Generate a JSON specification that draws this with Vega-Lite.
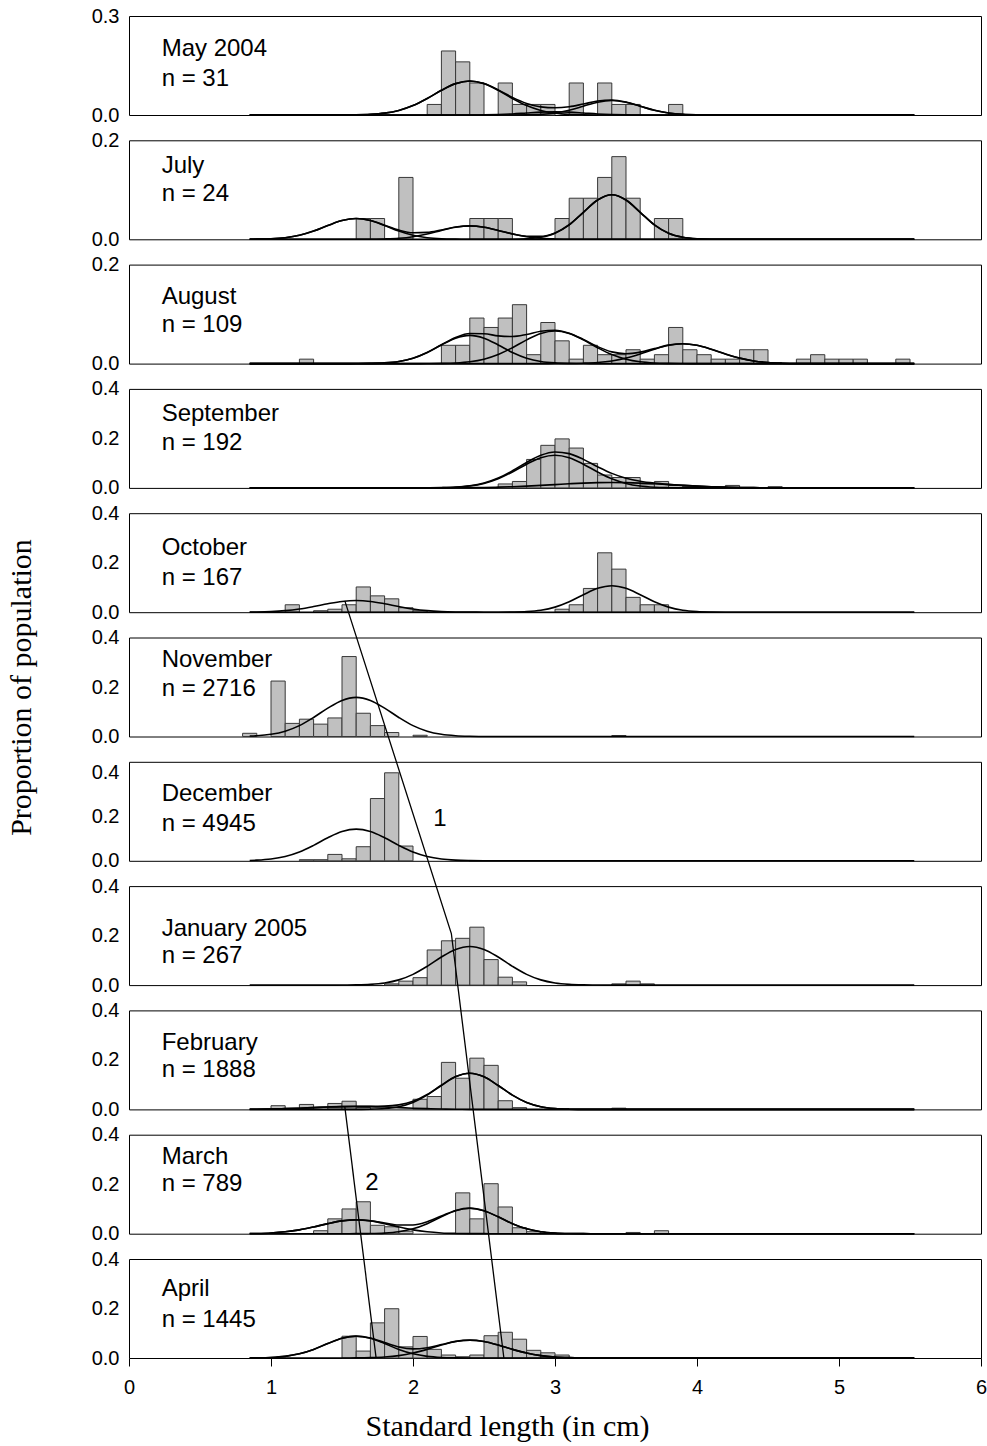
{
  "$schema": "https://vega.github.io/schema/vega-lite/v6.json",
  "background": "white",
  "padding": {"left": 5, "top": 5, "right": 0, "bottom": 5},
  "bounds": "flush",
  "spacing": 25.3,
  "config": {
    "view": {"stroke": "black", "strokeWidth": 1},
    "axis": {
      "labelFont": "Liberation Sans", "labelFontSize": 20, "labelColor": "black",
      "titleFont": "Liberation Serif", "titleFontSize": 30, "titleFontWeight": "normal", "titleColor": "black",
      "grid": false, "domain": false
    },
    "axisY": {"ticks": false, "labelPadding": 10, "format": ".1f"}
  },
  "datasets": {
    "bins": [
      {"m": "May", "x": [2.1,2.2,2.3,2.4,2.6,2.7,2.8,2.9,3.1,3.3,3.4,3.5,3.8], "hi": [2.2,2.3,2.4,2.5,2.7,2.8,2.9,3.0,3.2,3.4,3.5,3.6,3.9], "p": [0.032,0.194,0.161,0.097,0.097,0.032,0.032,0.032,0.097,0.097,0.032,0.032,0.032]},
      {"m": "Jul", "x": [1.6,1.7,1.9,2.4,2.5,2.6,3.0,3.1,3.2,3.3,3.4,3.5,3.7,3.8], "hi": [1.7,1.8,2.0,2.5,2.6,2.7,3.1,3.2,3.3,3.4,3.5,3.6,3.8,3.9], "p": [0.042,0.042,0.125,0.042,0.042,0.042,0.042,0.083,0.083,0.125,0.167,0.083,0.042,0.042]},
      {"m": "Aug", "x": [1.2,2.2,2.3,2.4,2.5,2.6,2.7,2.8,2.9,3.0,3.1,3.2,3.3,3.4,3.5,3.6,3.7,3.8,3.9,4.0,4.1,4.2,4.3,4.4,4.7,4.8,4.9,5.0,5.1,5.4], "hi": [1.3,2.3,2.4,2.5,2.6,2.7,2.8,2.9,3.0,3.1,3.2,3.3,3.4,3.5,3.6,3.7,3.8,3.9,4.0,4.1,4.2,4.3,4.4,4.5,4.8,4.9,5.0,5.1,5.2,5.5], "p": [0.009,0.037,0.037,0.092,0.073,0.092,0.119,0.018,0.083,0.046,0.009,0.037,0.018,0.018,0.028,0.009,0.018,0.073,0.028,0.018,0.009,0.009,0.028,0.028,0.009,0.018,0.009,0.009,0.009,0.009]},
      {"m": "Sep", "x": [2.6,2.7,2.8,2.9,3.0,3.1,3.2,3.3,3.4,3.5,3.6,3.7,3.8,3.9,4.2,4.5], "hi": [2.7,2.8,2.9,3.0,3.1,3.2,3.3,3.4,3.5,3.6,3.7,3.8,3.9,4.0,4.3,4.6], "p": [0.016,0.026,0.115,0.172,0.198,0.161,0.099,0.052,0.042,0.042,0.016,0.026,0.010,0.005,0.010,0.005]},
      {"m": "Oct", "x": [1.1,1.3,1.4,1.5,1.6,1.7,1.8,1.9,2.0,3.0,3.1,3.2,3.3,3.4,3.5,3.6,3.7], "hi": [1.2,1.4,1.5,1.6,1.7,1.8,1.9,2.0,2.1,3.1,3.2,3.3,3.4,3.5,3.6,3.7,3.8], "p": [0.030,0.006,0.012,0.030,0.102,0.066,0.054,0.018,0.006,0.012,0.030,0.096,0.240,0.174,0.060,0.030,0.030]},
      {"m": "Nov", "x": [0.8,1.0,1.1,1.2,1.3,1.4,1.5,1.6,1.7,1.8,2.0,3.4], "hi": [0.9,1.1,1.2,1.3,1.4,1.5,1.6,1.7,1.8,1.9,2.1,3.5], "p": [0.013,0.224,0.053,0.070,0.050,0.075,0.323,0.094,0.044,0.016,0.005,0.004]},
      {"m": "Dec", "x": [1.2,1.3,1.4,1.5,1.6,1.7,1.8,1.9], "hi": [1.3,1.4,1.5,1.6,1.7,1.8,1.9,2.0], "p": [0.005,0.005,0.029,0.009,0.064,0.283,0.400,0.067]},
      {"m": "Jan", "x": [1.8,1.9,2.0,2.1,2.2,2.3,2.4,2.5,2.6,2.7,3.4,3.5,3.6], "hi": [1.9,2.0,2.1,2.2,2.3,2.4,2.5,2.6,2.7,2.8,3.5,3.6,3.7], "p": [0.005,0.016,0.030,0.142,0.179,0.189,0.234,0.103,0.032,0.013,0.005,0.016,0.005]},
      {"m": "Feb", "x": [1.0,1.2,1.4,1.5,1.6,2.0,2.1,2.2,2.3,2.4,2.5,2.6,2.7,3.4], "hi": [1.1,1.3,1.5,1.6,1.7,2.1,2.2,2.3,2.4,2.5,2.6,2.7,2.8,3.5], "p": [0.015,0.020,0.024,0.033,0.008,0.041,0.052,0.190,0.126,0.207,0.178,0.035,0.007,0.005]},
      {"m": "Mar", "x": [1.3,1.4,1.5,1.6,1.7,1.8,1.9,2.3,2.4,2.5,2.6,2.7,2.8,3.5,3.7], "hi": [1.4,1.5,1.6,1.7,1.8,1.9,2.0,2.4,2.5,2.6,2.7,2.8,2.9,3.6,3.8], "p": [0.012,0.060,0.100,0.129,0.034,0.028,0.010,0.165,0.060,0.202,0.108,0.024,0.008,0.005,0.012]},
      {"m": "Apr", "x": [1.5,1.6,1.7,1.8,1.9,2.0,2.1,2.2,2.3,2.4,2.5,2.6,2.7,2.8,2.9,3.0], "hi": [1.6,1.7,1.8,1.9,2.0,2.1,2.2,2.3,2.4,2.5,2.6,2.7,2.8,2.9,3.0,3.1], "p": [0.088,0.028,0.142,0.199,0.045,0.087,0.035,0.012,0.005,0.012,0.090,0.104,0.076,0.031,0.021,0.012]}
    ],
    "fits": [
      {"m": "May", "c": "a", "x": [0.85,1.4,1.5,1.6,1.7,1.8,1.9,2.0,2.1,2.2,2.3,2.4,2.5,2.6,2.7,2.8,2.9,3.0,3.1,3.2,3.3,3.4,5.53], "p": [0,0,0.0002,0.0006,0.002,0.0058,0.0139,0.0286,0.0501,0.0748,0.0951,0.103,0.0951,0.0748,0.0501,0.0286,0.0139,0.0058,0.002,0.0006,0.0002,0,0]},
      {"m": "May", "c": "b", "x": [0.85,2.6,2.7,2.8,2.9,3.0,3.1,3.2,3.3,3.4,3.5,3.6,3.7,3.8,3.9,4.0,4.1,4.2,5.53], "p": [0,0,0.0001,0.0005,0.0019,0.006,0.0143,0.0267,0.0388,0.044,0.0388,0.0267,0.0143,0.006,0.0019,0.0005,0.0001,0,0]},
      {"m": "May", "c": "c", "x": [0.85,2.3,2.4,2.5,2.6,2.7,2.8,2.9,3.0,3.1,3.2,3.3,3.4,3.5,3.6,3.7,5.53], "p": [0,0,0.0001,0.0004,0.0014,0.0032,0.0061,0.0088,0.01,0.0088,0.0061,0.0032,0.0014,0.0004,0.0001,0,0]},
      {"m": "May", "c": "sum", "x": [0.85,1.4,1.5,1.6,1.7,1.8,1.9,2.0,2.1,2.2,2.3,2.4,2.5,2.6,2.7,2.8,2.9,3.0,3.1,3.2,3.3,3.4,3.5,3.6,3.7,3.8,3.9,4.0,4.1,4.2,5.53], "p": [0,0,0.0002,0.0006,0.002,0.0058,0.0139,0.0286,0.0501,0.0748,0.0951,0.1031,0.0955,0.0762,0.0534,0.0352,0.0246,0.0218,0.0251,0.0334,0.0422,0.0454,0.0392,0.0268,0.0143,0.006,0.0019,0.0005,0.0001,0,0]},
      {"m": "Jul", "c": "a", "x": [0.85,0.9,1.0,1.1,1.2,1.3,1.4,1.5,1.6,1.7,1.8,1.9,2.0,2.1,2.2,2.3,2.4,2.5,5.53], "p": [0,0.0003,0.001,0.0032,0.008,0.0166,0.0278,0.0379,0.042,0.0379,0.0278,0.0166,0.008,0.0032,0.001,0.0003,0.0001,0,0]},
      {"m": "Jul", "c": "b", "x": [0.85,1.6,1.7,1.8,1.9,2.0,2.1,2.2,2.3,2.4,2.5,2.6,2.7,2.8,2.9,3.0,3.1,3.2,5.53], "p": [0,0,0.0002,0.0007,0.002,0.0052,0.0107,0.0179,0.0244,0.027,0.0244,0.0179,0.0107,0.0052,0.002,0.0007,0.0002,0,0]},
      {"m": "Jul", "c": "c", "x": [0.85,2.6,2.7,2.8,2.9,3.0,3.1,3.2,3.3,3.4,3.5,3.6,3.7,3.8,3.9,4.0,4.1,4.2,5.53], "p": [0,0,0.0002,0.001,0.004,0.0122,0.0292,0.0546,0.0794,0.09,0.0794,0.0546,0.0292,0.0122,0.004,0.001,0.0002,0,0]},
      {"m": "Jul", "c": "sum", "x": [0.85,0.9,1.0,1.1,1.2,1.3,1.4,1.5,1.6,1.7,1.8,1.9,2.0,2.1,2.2,2.3,2.4,2.5,2.6,2.7,2.8,2.9,3.0,3.1,3.2,3.3,3.4,3.5,3.6,3.7,3.8,3.9,4.0,4.1,4.2,5.53], "p": [0,0.0003,0.001,0.0032,0.008,0.0166,0.0278,0.0379,0.042,0.0381,0.0285,0.0186,0.0132,0.0139,0.0189,0.0247,0.0271,0.0244,0.0179,0.0109,0.0062,0.006,0.0129,0.0294,0.0546,0.0794,0.09,0.0794,0.0546,0.0292,0.0122,0.004,0.001,0.0002,0,0]},
      {"m": "Aug", "c": "a", "x": [0.85,1.5,1.6,1.7,1.8,1.9,2.0,2.1,2.2,2.3,2.4,2.5,2.6,2.7,2.8,2.9,3.0,3.1,3.2,3.3,5.53], "p": [0,0,0.0001,0.0004,0.0014,0.0043,0.0109,0.0225,0.0377,0.0514,0.057,0.0514,0.0377,0.0225,0.0109,0.0043,0.0014,0.0004,0.0001,0,0]},
      {"m": "Aug", "c": "b", "x": [0.85,2.0,2.1,2.2,2.3,2.4,2.5,2.6,2.7,2.8,2.9,3.0,3.1,3.2,3.3,3.4,3.5,3.6,3.7,3.8,3.9,4.0,5.53], "p": [0,0,0.0001,0.0004,0.0013,0.0037,0.0089,0.0183,0.0321,0.0479,0.0609,0.066,0.0609,0.0479,0.0321,0.0183,0.0089,0.0037,0.0013,0.0004,0.0001,0,0]},
      {"m": "Aug", "c": "c", "x": [0.85,2.9,3.0,3.1,3.2,3.3,3.4,3.5,3.6,3.7,3.8,3.9,4.0,4.1,4.2,4.3,4.4,4.5,4.6,4.7,4.8,4.9,5.53], "p": [0,0,0.0001,0.0002,0.0008,0.0022,0.0054,0.0111,0.0195,0.029,0.0369,0.04,0.0369,0.029,0.0195,0.0111,0.0054,0.0022,0.0008,0.0002,0.0001,0,0]},
      {"m": "Aug", "c": "sum", "x": [0.85,1.5,1.6,1.7,1.8,1.9,2.0,2.1,2.2,2.3,2.4,2.5,2.6,2.7,2.8,2.9,3.0,3.1,3.2,3.3,3.4,3.5,3.6,3.7,3.8,3.9,4.0,4.1,4.2,4.3,4.4,4.5,4.6,4.7,4.8,4.9,5.53], "p": [0,0,0.0001,0.0004,0.0014,0.0043,0.0109,0.0226,0.0381,0.0527,0.0607,0.0603,0.056,0.0546,0.0588,0.0652,0.0675,0.0615,0.0488,0.0343,0.0237,0.02,0.0232,0.0303,0.0373,0.0401,0.0369,0.029,0.0195,0.0111,0.0054,0.0022,0.0008,0.0002,0.0001,0,0]},
      {"m": "Sep", "c": "a", "x": [0.85,2.0,2.1,2.2,2.3,2.4,2.5,2.6,2.7,2.8,2.9,3.0,3.1,3.2,3.3,3.4,3.5,3.6,3.7,3.8,3.9,4.0,5.53], "p": [0,0,0.0002,0.0008,0.0026,0.0074,0.0179,0.0367,0.0643,0.0958,0.1218,0.132,0.1218,0.0958,0.0643,0.0367,0.0179,0.0074,0.0026,0.0008,0.0002,0,0]},
      {"m": "Sep", "c": "b", "x": [0.85,2.0,2.1,2.2,2.3,2.4,2.5,2.6,2.7,2.8,2.9,3.0,3.1,3.2,3.3,3.4,3.5,3.6,3.7,3.8,3.9,4.0,4.1,4.2,4.3,4.4,4.5,4.6,4.7,4.8,5.53], "p": [0,0,0.0001,0.0002,0.0005,0.001,0.0018,0.003,0.0048,0.0071,0.0101,0.0133,0.0166,0.0194,0.0213,0.022,0.0213,0.0194,0.0166,0.0133,0.0101,0.0071,0.0048,0.003,0.0018,0.001,0.0005,0.0002,0.0001,0,0]},
      {"m": "Sep", "c": "sum", "x": [0.85,2.0,2.1,2.2,2.3,2.4,2.5,2.6,2.7,2.8,2.9,3.0,3.1,3.2,3.3,3.4,3.5,3.6,3.7,3.8,3.9,4.0,4.1,4.2,4.3,4.4,4.5,4.6,4.7,4.8,5.53], "p": [0,0,0.0003,0.001,0.0031,0.0084,0.0197,0.0397,0.0691,0.1029,0.1319,0.1453,0.1384,0.1152,0.0856,0.0587,0.0392,0.0268,0.0192,0.0141,0.0103,0.0071,0.0048,0.003,0.0018,0.001,0.0005,0.0002,0.0001,0,0]},
      {"m": "Oct", "c": "a", "x": [0.85,0.9,1.0,1.1,1.2,1.3,1.4,1.5,1.6,1.7,1.8,1.9,2.0,2.1,2.2,2.3,2.4,2.5,2.6,5.53], "p": [0.0005,0.0009,0.0026,0.0064,0.0131,0.0229,0.0341,0.0434,0.047,0.0434,0.0341,0.0229,0.0131,0.0064,0.0026,0.0009,0.0003,0.0001,0,0]},
      {"m": "Oct", "c": "b", "x": [0.85,2.5,2.6,2.7,2.8,2.9,3.0,3.1,3.2,3.3,3.4,3.5,3.6,3.7,3.8,3.9,4.0,4.1,4.2,4.3,5.53], "p": [0,0,0.0001,0.0007,0.0026,0.0081,0.0205,0.0422,0.0708,0.0965,0.107,0.0965,0.0708,0.0422,0.0205,0.0081,0.0026,0.0007,0.0001,0,0]},
      {"m": "Nov", "c": "a", "x": [0.85,0.9,1.0,1.1,1.2,1.3,1.4,1.5,1.6,1.7,1.8,1.9,2.0,2.1,2.2,2.3,2.4,2.5,2.6,5.53], "p": [0.0018,0.0031,0.0089,0.0214,0.0439,0.0769,0.1147,0.1458,0.158,0.1458,0.1147,0.0769,0.0439,0.0214,0.0089,0.0031,0.0009,0.0002,0,0]},
      {"m": "Dec", "c": "a", "x": [0.85,0.9,1.0,1.1,1.2,1.3,1.4,1.5,1.6,1.7,1.8,1.9,2.0,2.1,2.2,2.3,2.4,2.5,2.6,5.53], "p": [0.0016,0.0029,0.0081,0.0195,0.04,0.0701,0.1046,0.1329,0.144,0.1329,0.1046,0.0701,0.04,0.0195,0.0081,0.0029,0.0009,0.0002,0,0]},
      {"m": "Jan", "c": "a", "x": [0.85,1.4,1.5,1.6,1.7,1.8,1.9,2.0,2.1,2.2,2.3,2.4,2.5,2.6,2.7,2.8,2.9,3.0,3.1,3.2,3.3,3.4,5.53], "p": [0,0,0.0002,0.0009,0.0031,0.0088,0.0211,0.0434,0.0759,0.1133,0.144,0.156,0.144,0.1133,0.0759,0.0434,0.0211,0.0088,0.0031,0.0009,0.0002,0,0]},
      {"m": "Feb", "c": "a", "x": [0.85,1.5,1.6,1.7,1.8,1.9,2.0,2.1,2.2,2.3,2.4,2.5,2.6,2.7,2.8,2.9,3.0,3.1,3.2,3.3,5.53], "p": [0,0,0.0002,0.0009,0.0035,0.011,0.028,0.0576,0.0966,0.1317,0.146,0.1317,0.0966,0.0576,0.028,0.011,0.0035,0.0009,0.0002,0,0]},
      {"m": "Feb", "c": "b", "x": [0.85,0.9,1.0,1.1,1.2,1.3,1.4,1.5,1.6,1.7,1.8,1.9,2.0,2.1,2.2,2.3,2.4,2.5,2.6,5.53], "p": [0.0005,0.0008,0.0016,0.003,0.0049,0.0073,0.0096,0.0114,0.012,0.0114,0.0096,0.0073,0.0049,0.003,0.0016,0.0008,0.0003,0.0001,0,0]},
      {"m": "Feb", "c": "sum", "x": [0.85,0.9,1.0,1.1,1.2,1.3,1.4,1.5,1.6,1.7,1.8,1.9,2.0,2.1,2.2,2.3,2.4,2.5,2.6,2.7,2.8,2.9,3.0,3.1,3.2,3.3,5.53], "p": [0.0005,0.0008,0.0016,0.003,0.0049,0.0073,0.0096,0.0114,0.0122,0.0123,0.0131,0.0183,0.0329,0.0606,0.0982,0.1325,0.1463,0.1318,0.0966,0.0576,0.028,0.011,0.0035,0.0009,0.0002,0,0]},
      {"m": "Mar", "c": "a", "x": [0.85,0.9,1.0,1.1,1.2,1.3,1.4,1.5,1.6,1.7,1.8,1.9,2.0,2.1,2.2,2.3,2.4,2.5,2.6,5.53], "p": [0.0006,0.0011,0.0031,0.0076,0.0156,0.0273,0.0407,0.0517,0.056,0.0517,0.0407,0.0273,0.0156,0.0076,0.0031,0.0011,0.0003,0.0001,0,0]},
      {"m": "Mar", "c": "b", "x": [0.85,1.5,1.6,1.7,1.8,1.9,2.0,2.1,2.2,2.3,2.4,2.5,2.6,2.7,2.8,2.9,3.0,3.1,3.2,3.3,5.53], "p": [0,0,0.0001,0.0006,0.0025,0.0078,0.0197,0.0406,0.0681,0.0929,0.103,0.0929,0.0681,0.0406,0.0197,0.0078,0.0025,0.0006,0.0001,0,0]},
      {"m": "Mar", "c": "sum", "x": [0.85,0.9,1.0,1.1,1.2,1.3,1.4,1.5,1.6,1.7,1.8,1.9,2.0,2.1,2.2,2.3,2.4,2.5,2.6,2.7,2.8,2.9,3.0,3.1,3.2,3.3,5.53], "p": [0.0006,0.0011,0.0031,0.0076,0.0156,0.0273,0.0407,0.0517,0.0561,0.0523,0.0432,0.0351,0.0353,0.0482,0.0712,0.094,0.1033,0.093,0.0681,0.0406,0.0197,0.0078,0.0025,0.0006,0.0001,0,0]},
      {"m": "Apr", "c": "a", "x": [0.85,0.9,1.0,1.1,1.2,1.3,1.4,1.5,1.6,1.7,1.8,1.9,2.0,2.1,2.2,2.3,2.4,2.5,5.53], "p": [0.0003,0.0006,0.0021,0.0067,0.0169,0.0347,0.0582,0.0794,0.088,0.0794,0.0582,0.0347,0.0169,0.0067,0.0021,0.0006,0.0001,0,0]},
      {"m": "Apr", "c": "b", "x": [0.85,1.4,1.5,1.6,1.7,1.8,1.9,2.0,2.1,2.2,2.3,2.4,2.5,2.6,2.7,2.8,2.9,3.0,3.1,3.2,3.3,3.4,5.53], "p": [0,0,0.0001,0.0004,0.0014,0.004,0.0097,0.02,0.035,0.0523,0.0665,0.072,0.0665,0.0523,0.035,0.02,0.0097,0.004,0.0014,0.0004,0.0001,0,0]},
      {"m": "Apr", "c": "sum", "x": [0.85,0.9,1.0,1.1,1.2,1.3,1.4,1.5,1.6,1.7,1.8,1.9,2.0,2.1,2.2,2.3,2.4,2.5,2.6,2.7,2.8,2.9,3.0,3.1,3.2,3.3,3.4,5.53], "p": [0.0003,0.0006,0.0021,0.0067,0.0169,0.0347,0.0582,0.0795,0.0884,0.0808,0.0622,0.0444,0.0369,0.0417,0.0544,0.0671,0.0721,0.0665,0.0523,0.035,0.02,0.0097,0.004,0.0014,0.0004,0.0001,0,0]}
    ],
    "captions": [
      {"m": "May", "name": "May 2004", "n": "n = 31"},
      {"m": "Jul", "name": "July", "n": "n = 24"},
      {"m": "Aug", "name": "August", "n": "n = 109"},
      {"m": "Sep", "name": "September", "n": "n = 192"},
      {"m": "Oct", "name": "October", "n": "n = 167"},
      {"m": "Nov", "name": "November", "n": "n = 2716"},
      {"m": "Dec", "name": "December", "n": "n = 4945"},
      {"m": "Jan", "name": "January 2005", "n": "n = 267"},
      {"m": "Feb", "name": "February", "n": "n = 1888"},
      {"m": "Mar", "name": "March", "n": "n = 789"},
      {"m": "Apr", "name": "April", "n": "n = 1445"}
    ],
    "cohorts": [
      {"m": "Dec", "t": "1"},
      {"m": "Mar", "t": "2"}
    ],
    "links": [
      {"link": "1", "x": 1.52, "p": 3.059},
      {"link": "1", "x": 2.27, "p": 1.715},
      {"link": "1", "x": 2.64, "p": 0},
      {"link": "2", "x": 1.52, "p": 1.0145},
      {"link": "2", "x": 1.74, "p": 0}
    ]
  },
  "vconcat": [
    {
      "width": 852, "height": 99,
      "layer": [
        {"data": {"name": "bins"}, "transform": [{"filter": {"field": "m", "equal": "May"}}, {"flatten": ["x", "hi", "p"]}],
         "mark": {"type": "rect", "fill": "#c0c0c0", "stroke": "#383838", "strokeWidth": 1},
         "encoding": {
           "x": {"field": "x", "type": "quantitative", "scale": {"domain": [0, 6], "nice": false}, "axis": null},
           "x2": {"field": "hi"},
           "y": {"field": "p", "type": "quantitative", "scale": {"domain": [0, 0.3], "nice": false}, "axis": {"values": [0, 0.3]}, "title": null},
           "y2": {"datum": 0}}},
        {"data": {"name": "fits"}, "transform": [{"filter": {"field": "m", "equal": "May"}}, {"flatten": ["x", "p"]}],
         "mark": {"type": "line", "interpolate": "monotone", "stroke": "black", "strokeWidth": 1.6},
         "encoding": {"x": {"field": "x", "type": "quantitative", "axis": null}, "y": {"field": "p", "type": "quantitative", "title": null}, "detail": {"field": "c", "type": "nominal"}}},
        {"data": {"name": "captions"}, "transform": [{"filter": {"field": "m", "equal": "May"}}],
         "mark": {"type": "text", "align": "left", "baseline": "alphabetic", "font": "Liberation Sans", "fontSize": 24, "fill": "black"},
         "encoding": {"x": {"datum": 0.23, "type": "quantitative", "axis": null}, "y": {"datum": 0.179, "type": "quantitative", "title": null}, "text": {"field": "name", "type": "nominal"}}},
        {"data": {"name": "captions"}, "transform": [{"filter": {"field": "m", "equal": "May"}}],
         "mark": {"type": "text", "align": "left", "baseline": "alphabetic", "font": "Liberation Sans", "fontSize": 24, "fill": "black"},
         "encoding": {"x": {"datum": 0.23, "type": "quantitative", "axis": null}, "y": {"datum": 0.088, "type": "quantitative", "title": null}, "text": {"field": "n", "type": "nominal"}}}
      ]
    },
    {
      "width": 852, "height": 99,
      "layer": [
        {"data": {"name": "bins"}, "transform": [{"filter": {"field": "m", "equal": "Jul"}}, {"flatten": ["x", "hi", "p"]}],
         "mark": {"type": "rect", "fill": "#c0c0c0", "stroke": "#383838", "strokeWidth": 1},
         "encoding": {
           "x": {"field": "x", "type": "quantitative", "scale": {"domain": [0, 6], "nice": false}, "axis": null},
           "x2": {"field": "hi"},
           "y": {"field": "p", "type": "quantitative", "scale": {"domain": [0, 0.2], "nice": false}, "axis": {"values": [0, 0.2]}, "title": null},
           "y2": {"datum": 0}}},
        {"data": {"name": "fits"}, "transform": [{"filter": {"field": "m", "equal": "Jul"}}, {"flatten": ["x", "p"]}],
         "mark": {"type": "line", "interpolate": "monotone", "stroke": "black", "strokeWidth": 1.6},
         "encoding": {"x": {"field": "x", "type": "quantitative", "axis": null}, "y": {"field": "p", "type": "quantitative", "title": null}, "detail": {"field": "c", "type": "nominal"}}},
        {"data": {"name": "captions"}, "transform": [{"filter": {"field": "m", "equal": "Jul"}}],
         "mark": {"type": "text", "align": "left", "baseline": "alphabetic", "font": "Liberation Sans", "fontSize": 24, "fill": "black"},
         "encoding": {"x": {"datum": 0.23, "type": "quantitative", "axis": null}, "y": {"datum": 0.133, "type": "quantitative", "title": null}, "text": {"field": "name", "type": "nominal"}}},
        {"data": {"name": "captions"}, "transform": [{"filter": {"field": "m", "equal": "Jul"}}],
         "mark": {"type": "text", "align": "left", "baseline": "alphabetic", "font": "Liberation Sans", "fontSize": 24, "fill": "black"},
         "encoding": {"x": {"datum": 0.23, "type": "quantitative", "axis": null}, "y": {"datum": 0.077, "type": "quantitative", "title": null}, "text": {"field": "n", "type": "nominal"}}}
      ]
    },
    {
      "width": 852, "height": 99,
      "layer": [
        {"data": {"name": "bins"}, "transform": [{"filter": {"field": "m", "equal": "Aug"}}, {"flatten": ["x", "hi", "p"]}],
         "mark": {"type": "rect", "fill": "#c0c0c0", "stroke": "#383838", "strokeWidth": 1},
         "encoding": {
           "x": {"field": "x", "type": "quantitative", "scale": {"domain": [0, 6], "nice": false}, "axis": null},
           "x2": {"field": "hi"},
           "y": {"field": "p", "type": "quantitative", "scale": {"domain": [0, 0.2], "nice": false}, "axis": {"values": [0, 0.2]}, "title": null},
           "y2": {"datum": 0}}},
        {"data": {"name": "fits"}, "transform": [{"filter": {"field": "m", "equal": "Aug"}}, {"flatten": ["x", "p"]}],
         "mark": {"type": "line", "interpolate": "monotone", "stroke": "black", "strokeWidth": 1.6},
         "encoding": {"x": {"field": "x", "type": "quantitative", "axis": null}, "y": {"field": "p", "type": "quantitative", "title": null}, "detail": {"field": "c", "type": "nominal"}}},
        {"data": {"name": "captions"}, "transform": [{"filter": {"field": "m", "equal": "Aug"}}],
         "mark": {"type": "text", "align": "left", "baseline": "alphabetic", "font": "Liberation Sans", "fontSize": 24, "fill": "black"},
         "encoding": {"x": {"datum": 0.23, "type": "quantitative", "axis": null}, "y": {"datum": 0.121, "type": "quantitative", "title": null}, "text": {"field": "name", "type": "nominal"}}},
        {"data": {"name": "captions"}, "transform": [{"filter": {"field": "m", "equal": "Aug"}}],
         "mark": {"type": "text", "align": "left", "baseline": "alphabetic", "font": "Liberation Sans", "fontSize": 24, "fill": "black"},
         "encoding": {"x": {"datum": 0.23, "type": "quantitative", "axis": null}, "y": {"datum": 0.063, "type": "quantitative", "title": null}, "text": {"field": "n", "type": "nominal"}}}
      ]
    },
    {
      "width": 852, "height": 99,
      "layer": [
        {"data": {"name": "bins"}, "transform": [{"filter": {"field": "m", "equal": "Sep"}}, {"flatten": ["x", "hi", "p"]}],
         "mark": {"type": "rect", "fill": "#c0c0c0", "stroke": "#383838", "strokeWidth": 1},
         "encoding": {
           "x": {"field": "x", "type": "quantitative", "scale": {"domain": [0, 6], "nice": false}, "axis": null},
           "x2": {"field": "hi"},
           "y": {"field": "p", "type": "quantitative", "scale": {"domain": [0, 0.4], "nice": false}, "axis": {"values": [0, 0.2, 0.4]}, "title": null},
           "y2": {"datum": 0}}},
        {"data": {"name": "fits"}, "transform": [{"filter": {"field": "m", "equal": "Sep"}}, {"flatten": ["x", "p"]}],
         "mark": {"type": "line", "interpolate": "monotone", "stroke": "black", "strokeWidth": 1.6},
         "encoding": {"x": {"field": "x", "type": "quantitative", "axis": null}, "y": {"field": "p", "type": "quantitative", "title": null}, "detail": {"field": "c", "type": "nominal"}}},
        {"data": {"name": "captions"}, "transform": [{"filter": {"field": "m", "equal": "Sep"}}],
         "mark": {"type": "text", "align": "left", "baseline": "alphabetic", "font": "Liberation Sans", "fontSize": 24, "fill": "black"},
         "encoding": {"x": {"datum": 0.23, "type": "quantitative", "axis": null}, "y": {"datum": 0.271, "type": "quantitative", "title": null}, "text": {"field": "name", "type": "nominal"}}},
        {"data": {"name": "captions"}, "transform": [{"filter": {"field": "m", "equal": "Sep"}}],
         "mark": {"type": "text", "align": "left", "baseline": "alphabetic", "font": "Liberation Sans", "fontSize": 24, "fill": "black"},
         "encoding": {"x": {"datum": 0.23, "type": "quantitative", "axis": null}, "y": {"datum": 0.154, "type": "quantitative", "title": null}, "text": {"field": "n", "type": "nominal"}}}
      ]
    },
    {
      "width": 852, "height": 99,
      "layer": [
        {"data": {"name": "bins"}, "transform": [{"filter": {"field": "m", "equal": "Oct"}}, {"flatten": ["x", "hi", "p"]}],
         "mark": {"type": "rect", "fill": "#c0c0c0", "stroke": "#383838", "strokeWidth": 1},
         "encoding": {
           "x": {"field": "x", "type": "quantitative", "scale": {"domain": [0, 6], "nice": false}, "axis": null},
           "x2": {"field": "hi"},
           "y": {"field": "p", "type": "quantitative", "scale": {"domain": [0, 0.4], "nice": false}, "axis": {"values": [0, 0.2, 0.4]}, "title": null},
           "y2": {"datum": 0}}},
        {"data": {"name": "fits"}, "transform": [{"filter": {"field": "m", "equal": "Oct"}}, {"flatten": ["x", "p"]}],
         "mark": {"type": "line", "interpolate": "monotone", "stroke": "black", "strokeWidth": 1.6},
         "encoding": {"x": {"field": "x", "type": "quantitative", "axis": null}, "y": {"field": "p", "type": "quantitative", "title": null}, "detail": {"field": "c", "type": "nominal"}}},
        {"data": {"name": "captions"}, "transform": [{"filter": {"field": "m", "equal": "Oct"}}],
         "mark": {"type": "text", "align": "left", "baseline": "alphabetic", "font": "Liberation Sans", "fontSize": 24, "fill": "black"},
         "encoding": {"x": {"datum": 0.23, "type": "quantitative", "axis": null}, "y": {"datum": 0.23, "type": "quantitative", "title": null}, "text": {"field": "name", "type": "nominal"}}},
        {"data": {"name": "captions"}, "transform": [{"filter": {"field": "m", "equal": "Oct"}}],
         "mark": {"type": "text", "align": "left", "baseline": "alphabetic", "font": "Liberation Sans", "fontSize": 24, "fill": "black"},
         "encoding": {"x": {"datum": 0.23, "type": "quantitative", "axis": null}, "y": {"datum": 0.109, "type": "quantitative", "title": null}, "text": {"field": "n", "type": "nominal"}}}
      ]
    },
    {
      "width": 852, "height": 99,
      "layer": [
        {"data": {"name": "bins"}, "transform": [{"filter": {"field": "m", "equal": "Nov"}}, {"flatten": ["x", "hi", "p"]}],
         "mark": {"type": "rect", "fill": "#c0c0c0", "stroke": "#383838", "strokeWidth": 1},
         "encoding": {
           "x": {"field": "x", "type": "quantitative", "scale": {"domain": [0, 6], "nice": false}, "axis": null},
           "x2": {"field": "hi"},
           "y": {"field": "p", "type": "quantitative", "scale": {"domain": [0, 0.4], "nice": false}, "axis": {"values": [0, 0.2, 0.4], "titlePadding": 55}, "title": "Proportion of population"},
           "y2": {"datum": 0}}},
        {"data": {"name": "fits"}, "transform": [{"filter": {"field": "m", "equal": "Nov"}}, {"flatten": ["x", "p"]}],
         "mark": {"type": "line", "interpolate": "monotone", "stroke": "black", "strokeWidth": 1.6},
         "encoding": {"x": {"field": "x", "type": "quantitative", "axis": null}, "y": {"field": "p", "type": "quantitative", "title": "Proportion of population"}, "detail": {"field": "c", "type": "nominal"}}},
        {"data": {"name": "captions"}, "transform": [{"filter": {"field": "m", "equal": "Nov"}}],
         "mark": {"type": "text", "align": "left", "baseline": "alphabetic", "font": "Liberation Sans", "fontSize": 24, "fill": "black"},
         "encoding": {"x": {"datum": 0.23, "type": "quantitative", "axis": null}, "y": {"datum": 0.279, "type": "quantitative", "title": "Proportion of population"}, "text": {"field": "name", "type": "nominal"}}},
        {"data": {"name": "captions"}, "transform": [{"filter": {"field": "m", "equal": "Nov"}}],
         "mark": {"type": "text", "align": "left", "baseline": "alphabetic", "font": "Liberation Sans", "fontSize": 24, "fill": "black"},
         "encoding": {"x": {"datum": 0.23, "type": "quantitative", "axis": null}, "y": {"datum": 0.162, "type": "quantitative", "title": "Proportion of population"}, "text": {"field": "n", "type": "nominal"}}}
      ]
    },
    {
      "width": 852, "height": 99,
      "layer": [
        {"data": {"name": "bins"}, "transform": [{"filter": {"field": "m", "equal": "Dec"}}, {"flatten": ["x", "hi", "p"]}],
         "mark": {"type": "rect", "fill": "#c0c0c0", "stroke": "#383838", "strokeWidth": 1},
         "encoding": {
           "x": {"field": "x", "type": "quantitative", "scale": {"domain": [0, 6], "nice": false}, "axis": null},
           "x2": {"field": "hi"},
           "y": {"field": "p", "type": "quantitative", "scale": {"domain": [0, 0.45], "nice": false}, "axis": {"values": [0, 0.2, 0.4]}, "title": null},
           "y2": {"datum": 0}}},
        {"data": {"name": "fits"}, "transform": [{"filter": {"field": "m", "equal": "Dec"}}, {"flatten": ["x", "p"]}],
         "mark": {"type": "line", "interpolate": "monotone", "stroke": "black", "strokeWidth": 1.6},
         "encoding": {"x": {"field": "x", "type": "quantitative", "axis": null}, "y": {"field": "p", "type": "quantitative", "title": null}, "detail": {"field": "c", "type": "nominal"}}},
        {"data": {"name": "captions"}, "transform": [{"filter": {"field": "m", "equal": "Dec"}}],
         "mark": {"type": "text", "align": "left", "baseline": "alphabetic", "font": "Liberation Sans", "fontSize": 24, "fill": "black"},
         "encoding": {"x": {"datum": 0.23, "type": "quantitative", "axis": null}, "y": {"datum": 0.273, "type": "quantitative", "title": null}, "text": {"field": "name", "type": "nominal"}}},
        {"data": {"name": "captions"}, "transform": [{"filter": {"field": "m", "equal": "Dec"}}],
         "mark": {"type": "text", "align": "left", "baseline": "alphabetic", "font": "Liberation Sans", "fontSize": 24, "fill": "black"},
         "encoding": {"x": {"datum": 0.23, "type": "quantitative", "axis": null}, "y": {"datum": 0.136, "type": "quantitative", "title": null}, "text": {"field": "n", "type": "nominal"}}},
        {"data": {"name": "cohorts"}, "transform": [{"filter": {"field": "m", "equal": "Dec"}}],
         "mark": {"type": "text", "align": "center", "baseline": "middle", "font": "Liberation Sans", "fontSize": 24, "fill": "black"},
         "encoding": {"x": {"datum": 2.19, "type": "quantitative", "axis": null}, "y": {"datum": 0.188, "type": "quantitative", "title": null}, "text": {"field": "t", "type": "nominal"}}}
      ]
    },
    {
      "width": 852, "height": 99,
      "layer": [
        {"data": {"name": "bins"}, "transform": [{"filter": {"field": "m", "equal": "Jan"}}, {"flatten": ["x", "hi", "p"]}],
         "mark": {"type": "rect", "fill": "#c0c0c0", "stroke": "#383838", "strokeWidth": 1},
         "encoding": {
           "x": {"field": "x", "type": "quantitative", "scale": {"domain": [0, 6], "nice": false}, "axis": null},
           "x2": {"field": "hi"},
           "y": {"field": "p", "type": "quantitative", "scale": {"domain": [0, 0.4], "nice": false}, "axis": {"values": [0, 0.2, 0.4]}, "title": null},
           "y2": {"datum": 0}}},
        {"data": {"name": "fits"}, "transform": [{"filter": {"field": "m", "equal": "Jan"}}, {"flatten": ["x", "p"]}],
         "mark": {"type": "line", "interpolate": "monotone", "stroke": "black", "strokeWidth": 1.6},
         "encoding": {"x": {"field": "x", "type": "quantitative", "axis": null}, "y": {"field": "p", "type": "quantitative", "title": null}, "detail": {"field": "c", "type": "nominal"}}},
        {"data": {"name": "captions"}, "transform": [{"filter": {"field": "m", "equal": "Jan"}}],
         "mark": {"type": "text", "align": "left", "baseline": "alphabetic", "font": "Liberation Sans", "fontSize": 24, "fill": "black"},
         "encoding": {"x": {"datum": 0.23, "type": "quantitative", "axis": null}, "y": {"datum": 0.198, "type": "quantitative", "title": null}, "text": {"field": "name", "type": "nominal"}}},
        {"data": {"name": "captions"}, "transform": [{"filter": {"field": "m", "equal": "Jan"}}],
         "mark": {"type": "text", "align": "left", "baseline": "alphabetic", "font": "Liberation Sans", "fontSize": 24, "fill": "black"},
         "encoding": {"x": {"datum": 0.23, "type": "quantitative", "axis": null}, "y": {"datum": 0.089, "type": "quantitative", "title": null}, "text": {"field": "n", "type": "nominal"}}}
      ]
    },
    {
      "width": 852, "height": 99,
      "layer": [
        {"data": {"name": "bins"}, "transform": [{"filter": {"field": "m", "equal": "Feb"}}, {"flatten": ["x", "hi", "p"]}],
         "mark": {"type": "rect", "fill": "#c0c0c0", "stroke": "#383838", "strokeWidth": 1},
         "encoding": {
           "x": {"field": "x", "type": "quantitative", "scale": {"domain": [0, 6], "nice": false}, "axis": null},
           "x2": {"field": "hi"},
           "y": {"field": "p", "type": "quantitative", "scale": {"domain": [0, 0.4], "nice": false}, "axis": {"values": [0, 0.2, 0.4]}, "title": null},
           "y2": {"datum": 0}}},
        {"data": {"name": "fits"}, "transform": [{"filter": {"field": "m", "equal": "Feb"}}, {"flatten": ["x", "p"]}],
         "mark": {"type": "line", "interpolate": "monotone", "stroke": "black", "strokeWidth": 1.6},
         "encoding": {"x": {"field": "x", "type": "quantitative", "axis": null}, "y": {"field": "p", "type": "quantitative", "title": null}, "detail": {"field": "c", "type": "nominal"}}},
        {"data": {"name": "captions"}, "transform": [{"filter": {"field": "m", "equal": "Feb"}}],
         "mark": {"type": "text", "align": "left", "baseline": "alphabetic", "font": "Liberation Sans", "fontSize": 24, "fill": "black"},
         "encoding": {"x": {"datum": 0.23, "type": "quantitative", "axis": null}, "y": {"datum": 0.242, "type": "quantitative", "title": null}, "text": {"field": "name", "type": "nominal"}}},
        {"data": {"name": "captions"}, "transform": [{"filter": {"field": "m", "equal": "Feb"}}],
         "mark": {"type": "text", "align": "left", "baseline": "alphabetic", "font": "Liberation Sans", "fontSize": 24, "fill": "black"},
         "encoding": {"x": {"datum": 0.23, "type": "quantitative", "axis": null}, "y": {"datum": 0.129, "type": "quantitative", "title": null}, "text": {"field": "n", "type": "nominal"}}}
      ]
    },
    {
      "width": 852, "height": 99,
      "layer": [
        {"data": {"name": "bins"}, "transform": [{"filter": {"field": "m", "equal": "Mar"}}, {"flatten": ["x", "hi", "p"]}],
         "mark": {"type": "rect", "fill": "#c0c0c0", "stroke": "#383838", "strokeWidth": 1},
         "encoding": {
           "x": {"field": "x", "type": "quantitative", "scale": {"domain": [0, 6], "nice": false}, "axis": null},
           "x2": {"field": "hi"},
           "y": {"field": "p", "type": "quantitative", "scale": {"domain": [0, 0.4], "nice": false}, "axis": {"values": [0, 0.2, 0.4]}, "title": null},
           "y2": {"datum": 0}}},
        {"data": {"name": "fits"}, "transform": [{"filter": {"field": "m", "equal": "Mar"}}, {"flatten": ["x", "p"]}],
         "mark": {"type": "line", "interpolate": "monotone", "stroke": "black", "strokeWidth": 1.6},
         "encoding": {"x": {"field": "x", "type": "quantitative", "axis": null}, "y": {"field": "p", "type": "quantitative", "title": null}, "detail": {"field": "c", "type": "nominal"}}},
        {"data": {"name": "captions"}, "transform": [{"filter": {"field": "m", "equal": "Mar"}}],
         "mark": {"type": "text", "align": "left", "baseline": "alphabetic", "font": "Liberation Sans", "fontSize": 24, "fill": "black"},
         "encoding": {"x": {"datum": 0.23, "type": "quantitative", "axis": null}, "y": {"datum": 0.283, "type": "quantitative", "title": null}, "text": {"field": "name", "type": "nominal"}}},
        {"data": {"name": "captions"}, "transform": [{"filter": {"field": "m", "equal": "Mar"}}],
         "mark": {"type": "text", "align": "left", "baseline": "alphabetic", "font": "Liberation Sans", "fontSize": 24, "fill": "black"},
         "encoding": {"x": {"datum": 0.23, "type": "quantitative", "axis": null}, "y": {"datum": 0.174, "type": "quantitative", "title": null}, "text": {"field": "n", "type": "nominal"}}},
        {"data": {"name": "cohorts"}, "transform": [{"filter": {"field": "m", "equal": "Mar"}}],
         "mark": {"type": "text", "align": "center", "baseline": "middle", "font": "Liberation Sans", "fontSize": 24, "fill": "black"},
         "encoding": {"x": {"datum": 1.71, "type": "quantitative", "axis": null}, "y": {"datum": 0.205, "type": "quantitative", "title": null}, "text": {"field": "t", "type": "nominal"}}}
      ]
    },
    {
      "width": 852, "height": 99,
      "layer": [
        {"data": {"name": "bins"}, "transform": [{"filter": {"field": "m", "equal": "Apr"}}, {"flatten": ["x", "hi", "p"]}],
         "mark": {"type": "rect", "fill": "#c0c0c0", "stroke": "#383838", "strokeWidth": 1},
         "encoding": {
           "x": {"field": "x", "type": "quantitative", "scale": {"domain": [0, 6], "nice": false}, "title": "Standard length (in cm)",
                 "axis": {"values": [0, 1, 2, 3, 4, 5, 6], "format": "d", "ticks": true, "tickSize": 8, "tickColor": "black", "labelPadding": 11, "labelFlush": false, "titlePadding": 14, "titleX": 378}},
           "x2": {"field": "hi"},
           "y": {"field": "p", "type": "quantitative", "scale": {"domain": [0, 0.4], "nice": false}, "axis": {"values": [0, 0.2, 0.4]}, "title": null},
           "y2": {"datum": 0}}},
        {"data": {"name": "fits"}, "transform": [{"filter": {"field": "m", "equal": "Apr"}}, {"flatten": ["x", "p"]}],
         "mark": {"type": "line", "interpolate": "monotone", "stroke": "black", "strokeWidth": 1.6},
         "encoding": {"x": {"field": "x", "type": "quantitative", "title": "Standard length (in cm)"}, "y": {"field": "p", "type": "quantitative", "title": null}, "detail": {"field": "c", "type": "nominal"}}},
        {"data": {"name": "captions"}, "transform": [{"filter": {"field": "m", "equal": "Apr"}}],
         "mark": {"type": "text", "align": "left", "baseline": "alphabetic", "font": "Liberation Sans", "fontSize": 24, "fill": "black"},
         "encoding": {"x": {"datum": 0.23, "type": "quantitative", "title": "Standard length (in cm)"}, "y": {"datum": 0.251, "type": "quantitative", "title": null}, "text": {"field": "name", "type": "nominal"}}},
        {"data": {"name": "captions"}, "transform": [{"filter": {"field": "m", "equal": "Apr"}}],
         "mark": {"type": "text", "align": "left", "baseline": "alphabetic", "font": "Liberation Sans", "fontSize": 24, "fill": "black"},
         "encoding": {"x": {"datum": 0.23, "type": "quantitative", "title": "Standard length (in cm)"}, "y": {"datum": 0.125, "type": "quantitative", "title": null}, "text": {"field": "n", "type": "nominal"}}},
        {"data": {"name": "links"},
         "mark": {"type": "line", "stroke": "black", "strokeWidth": 1.3},
         "encoding": {"x": {"field": "x", "type": "quantitative", "title": "Standard length (in cm)"}, "y": {"field": "p", "type": "quantitative", "title": null}, "detail": {"field": "link", "type": "nominal"}}}
      ]
    }
  ]
}
